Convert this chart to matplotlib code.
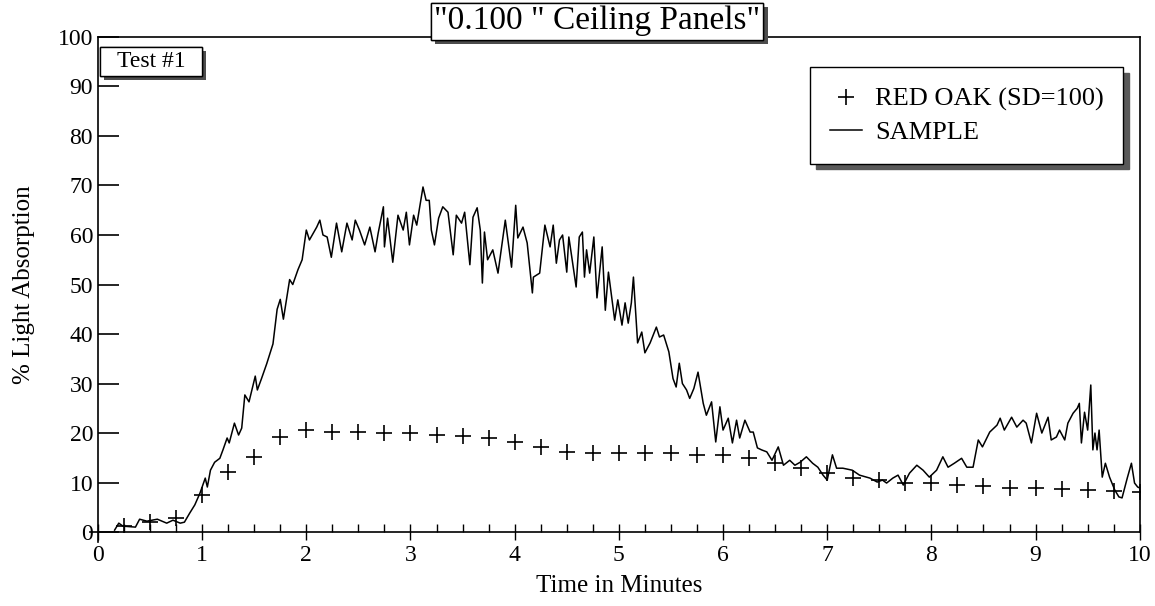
import matplotlib
matplotlib.use("Agg")
import matplotlib.pyplot as plt
import matplotlib.patheffects as pe
from matplotlib.patches import Rectangle
from matplotlib.ticker import MultipleLocator

plt.rcParams['font.family'] = ['Liberation Serif', 'DejaVu Serif']

# red oak reference points (every 15 s)
oak_t = [0.25, 0.5, 0.75, 1.0, 1.25, 1.5, 1.75, 2.0, 2.25, 2.5, 2.75, 3.0,
         3.25, 3.5, 3.75, 4.0, 4.25, 4.5, 4.75, 5.0, 5.25, 5.5, 5.75, 6.0,
         6.25, 6.5, 6.75, 7.0, 7.25, 7.5, 7.75, 8.0, 8.25, 8.5, 8.75, 9.0,
         9.25, 9.5, 9.75, 10.0]
oak_v = [1.2, 2.0, 2.8, 7.5, 12.1, 15.1, 19.2, 20.6, 20.2, 20.2, 20.1, 20.0,
         19.6, 19.4, 19.0, 18.2, 17.2, 16.2, 16.0, 16.0, 16.0, 16.0, 15.6, 15.5,
         15.0, 14.0, 13.0, 12.0, 11.0, 10.5, 10.0, 10.0, 9.6, 9.4, 9.0, 8.8,
         8.6, 8.5, 8.2, 8.0]

# sample trace
smp_t = [0.16, 0.20, 0.24, 0.36, 0.40, 0.47, 0.57, 0.66, 0.72, 0.79, 0.83, 0.88,
         0.93, 0.98, 1.03, 1.05, 1.08, 1.12, 1.17, 1.20, 1.24, 1.26, 1.31, 1.35,
         1.38, 1.41, 1.45, 1.51, 1.53, 1.57, 1.62, 1.68, 1.72, 1.75, 1.78, 1.84,
         1.87, 1.92, 1.96, 2.00, 2.03, 2.10, 2.13, 2.16, 2.20, 2.24, 2.29, 2.34,
         2.39, 2.44, 2.47, 2.51, 2.56, 2.61, 2.66, 2.69, 2.74, 2.75, 2.78, 2.83,
         2.88, 2.93, 2.96, 2.99, 3.03, 3.06, 3.12, 3.15, 3.18, 3.20, 3.23, 3.27,
         3.31, 3.36, 3.41, 3.44, 3.49, 3.52, 3.57, 3.60, 3.64, 3.67, 3.69, 3.71,
         3.74, 3.79, 3.84, 3.91, 3.97, 4.01, 4.03, 4.08, 4.12, 4.17, 4.18, 4.24,
         4.29, 4.34, 4.37, 4.40, 4.43, 4.46, 4.50, 4.52, 4.59, 4.62, 4.65, 4.67,
         4.69, 4.72, 4.76, 4.79, 4.84, 4.87, 4.90, 4.96, 4.99, 5.03, 5.06, 5.09,
         5.12, 5.14, 5.18, 5.22, 5.25, 5.30, 5.36, 5.39, 5.43, 5.48, 5.52, 5.55,
         5.58, 5.61, 5.65, 5.68, 5.72, 5.76, 5.81, 5.84, 5.89, 5.93, 5.97, 6.00,
         6.05, 6.09, 6.13, 6.16, 6.21, 6.26, 6.29, 6.33, 6.37, 6.42, 6.47, 6.53,
         6.58, 6.64, 6.69, 6.74, 6.80, 6.86, 6.91, 6.96, 7.00, 7.05, 7.09, 7.15,
         7.24, 7.31, 7.41, 7.48, 7.53, 7.57, 7.63, 7.68, 7.73, 7.79, 7.86, 7.92,
         7.98, 8.05, 8.11, 8.16, 8.22, 8.29, 8.34, 8.40, 8.45, 8.49, 8.56, 8.63,
         8.66, 8.70, 8.77, 8.82, 8.88, 8.91, 8.96, 9.01, 9.06, 9.12, 9.15, 9.20,
         9.23, 9.28, 9.31, 9.36, 9.40, 9.42, 9.44, 9.47, 9.50, 9.53, 9.55, 9.57,
         9.59, 9.61, 9.64, 9.67, 9.71, 9.76, 9.80, 9.83, 9.88, 9.92, 9.95, 9.98,
         10.0]
smp_v = [0.4, 1.8, 1.2, 1.0, 2.6, 2.2, 2.6, 1.8, 2.4, 1.8, 2.0, 3.8,
         5.5, 7.9, 10.9, 9.1, 12.5, 14.1, 14.9, 16.6, 19.0, 18.0, 22.0, 19.6,
         21.0, 27.7, 26.3, 31.5, 28.7, 31.0, 34.0, 38.0, 45.0, 47.0, 43.0, 51.0,
         50.0, 53.0, 55.0, 61.0, 59.0, 61.6, 63.0, 60.0, 59.6, 55.5, 62.4, 56.6,
         62.4, 59.0, 63.0, 61.0, 58.0, 61.6, 56.6, 60.4, 65.7, 57.6, 63.4, 54.5,
         64.0, 61.0, 64.6, 58.0, 64.0, 62.0, 69.7, 67.0, 67.0, 61.0, 58.0, 63.4,
         65.7, 64.6, 56.0, 64.0, 62.4, 64.6, 54.0, 63.6, 65.5, 61.0, 50.3, 60.6,
         55.0, 57.0, 52.3, 63.0, 53.5, 66.0, 59.4, 61.6, 58.4, 48.3, 51.5, 52.3,
         62.0, 57.6, 62.0, 54.3, 59.0, 60.0, 52.5, 59.6, 49.5, 59.6, 60.6, 51.5,
         57.0, 52.3, 59.6, 47.3, 57.6, 44.8, 52.5, 42.8, 46.9, 41.8, 46.3, 42.2,
         46.3, 51.5, 38.2, 40.4, 36.2, 38.2, 41.4, 39.4, 39.8, 36.4, 31.0, 29.3,
         34.1, 30.0, 28.7, 27.0, 29.0, 32.3, 26.0, 23.6, 26.3, 18.2, 25.3, 20.6,
         23.0, 18.0, 22.6, 19.0, 22.6, 20.2, 20.2, 17.0, 16.6, 16.2, 14.5, 17.2,
         13.5, 14.5, 13.5, 14.1, 15.2, 13.9, 13.1, 11.5, 10.5, 15.6, 12.9, 12.9,
         12.5, 11.5, 10.9, 10.1, 10.5, 9.9, 10.9, 11.5, 9.5, 11.9, 13.5, 12.5,
         11.1, 12.5, 15.2, 13.1, 13.9, 14.9, 13.1, 13.1, 18.6, 17.2, 20.2, 21.6,
         23.0, 20.6, 23.2, 21.2, 22.6, 22.0, 18.0, 24.0, 20.0, 23.2, 18.6, 19.2,
         20.6, 18.6, 22.0, 24.0, 25.0, 26.0, 18.0, 24.2, 20.6, 29.7, 16.6, 20.0,
         16.6, 20.6, 11.1, 13.9, 11.1, 8.5, 7.1, 6.9, 10.9, 13.9, 9.9, 9.1,
         8.9]

fig = plt.figure(figsize=(11.55, 6.06), dpi=100)
ax = fig.add_axes([0.0848, 0.122, 0.902, 0.817])

ax.plot(oak_t, oak_v, linestyle='none', marker='+', markersize=12,
        markeredgewidth=1.2, color='black', label='RED OAK (SD=100)')
ax.plot(smp_t, smp_v, color='black', linewidth=1.1, label='SAMPLE')

ax.set_xlim(0, 10)
ax.set_ylim(0, 100)
ax.xaxis.set_major_locator(MultipleLocator(1))
ax.xaxis.set_minor_locator(MultipleLocator(0.25))
ax.yaxis.set_major_locator(MultipleLocator(10))
ax.tick_params(axis='x', which='major', direction='inout', length=12, width=1, labelsize=17)
ax.tick_params(axis='x', which='minor', direction='in', length=6, width=1)
ax.tick_params(axis='y', which='major', direction='in', length=15, width=1.2, labelsize=17)
for s in ax.spines.values():
    s.set_linewidth(1.2)
# axis lines run a little past the origin, like the original plot
ax.spines['left'].set_bounds(-2, 100)
ax.spines['bottom'].set_bounds(-0.08, 10)

ax.set_xlabel('Time in Minutes', fontsize=18, labelpad=6)
ax.set_ylabel('% Light Absorption', fontsize=18, labelpad=16)

leg = ax.legend(loc='upper right', bbox_to_anchor=(0.997, 0.965), fontsize=19,
                frameon=True, fancybox=False, edgecolor='black', handlelength=1.2,
                handletextpad=0.5, borderpad=0.75, labelspacing=0.35,
                shadow={'color': '0.35', 'alpha': 1, 'ox': 4, 'oy': -4})
leg.get_frame().set_linewidth(1.0)

shadow = [pe.withSimplePatchShadow(offset=(3, -3), shadow_rgbFace='0.3', alpha=1), pe.Normal()]

t1 = ax.text(0.479, 1.032, '"0.100 " Ceiling Panels"', transform=ax.transAxes,
             ha='center', va='center', fontsize=24,
             bbox=dict(boxstyle='square,pad=0.1', facecolor='white', edgecolor='black', linewidth=1))
t1.get_bbox_patch().set_path_effects(shadow)

# "Test #1" tag box
tag = Rectangle((0.002, 0.922), 0.098, 0.058, transform=ax.transAxes,
                facecolor='white', edgecolor='black', linewidth=1, zorder=5, clip_on=False)
tag.set_path_effects(shadow)
ax.add_patch(tag)
ax.text(0.051, 0.951, 'Test #1', transform=ax.transAxes, ha='center', va='center',
        fontsize=17, zorder=6)

fig.savefig('out.png', dpi=100)
